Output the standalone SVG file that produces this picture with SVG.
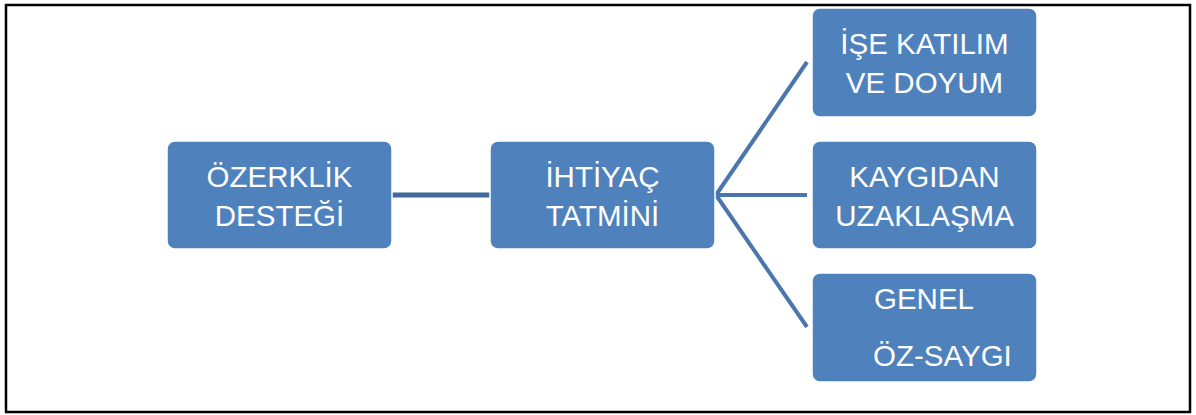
<svg xmlns="http://www.w3.org/2000/svg" width="1196" height="415" viewBox="0 0 1196 415">
  <style>
    .box { fill: #4F81BD; stroke: #FFFFFF; stroke-width: 1.5; }
    .lbl { font-family: "Liberation Sans", Arial, sans-serif; font-size: 29.5px; fill: #FFFFFF; }
    .mid { text-anchor: middle; }
    .conn { stroke: #4A76AD; stroke-width: 4; fill: none; }
    .conn-main { stroke: #41699C; stroke-width: 5; fill: none; }
  </style>
  <rect x="0" y="0" width="1196" height="415" fill="#FFFFFF"/>
  <rect x="6" y="5" width="1184" height="407" fill="none" stroke="#000000" stroke-width="2.5"/>
  <g id="connectors">
    <line class="conn-main" x1="392" y1="195" x2="490" y2="195"/>
    <line class="conn" x1="716" y1="195" x2="807" y2="62"/>
    <line class="conn" x1="716" y1="195" x2="807" y2="195"/>
    <line class="conn" x1="716" y1="195" x2="807" y2="327"/>
  </g>
  <g id="node-ozerklik">
    <rect class="box" x="167" y="141" width="225" height="108" rx="8"/>
    <text class="lbl mid" x="279.5" y="187">ÖZERKLİK</text>
    <text class="lbl mid" x="279.5" y="226">DESTEĞİ</text>
  </g>
  <g id="node-ihtiyac">
    <rect class="box" x="490" y="141" width="225" height="108" rx="8"/>
    <text class="lbl mid" x="602.5" y="187">İHTİYAÇ</text>
    <text class="lbl mid" x="602.5" y="226">TATMİNİ</text>
  </g>
  <g id="node-ise">
    <rect class="box" x="812" y="8" width="225" height="109" rx="8"/>
    <text class="lbl mid" x="924.5" y="54">İŞE KATILIM</text>
    <text class="lbl mid" x="924.5" y="93">VE DOYUM</text>
  </g>
  <g id="node-kaygidan">
    <rect class="box" x="812" y="141" width="225" height="108" rx="8"/>
    <text class="lbl mid" x="924.5" y="187">KAYGIDAN</text>
    <text class="lbl mid" x="924.5" y="226">UZAKLAŞMA</text>
  </g>
  <g id="node-genel">
    <rect class="box" x="812" y="273" width="225" height="109" rx="8"/>
    <text class="lbl" x="874" y="309">GENEL</text>
    <text class="lbl" x="873" y="366">ÖZ-SAYGI</text>
  </g>
</svg>
